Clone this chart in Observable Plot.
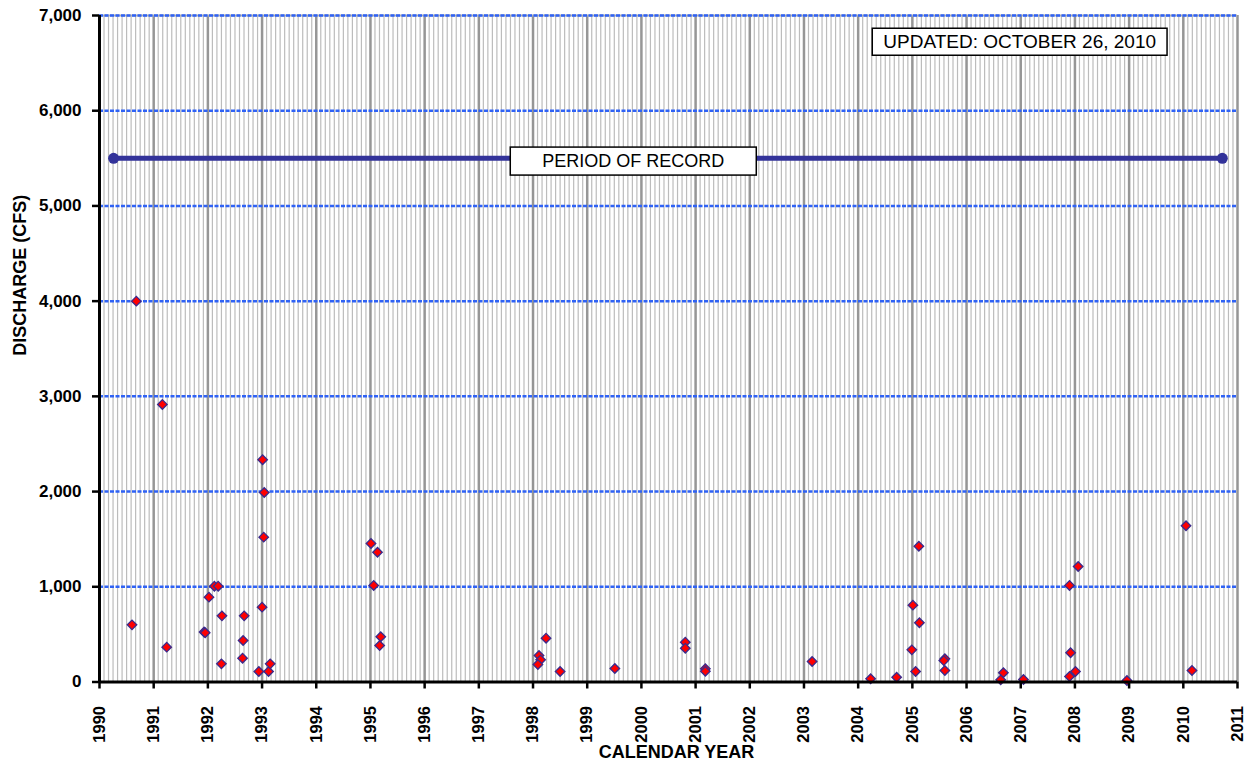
<!DOCTYPE html>
<html>
<head>
<meta charset="utf-8">
<script src="https://cdn.jsdelivr.net/npm/d3@7"></script>
<script src="https://cdn.jsdelivr.net/npm/@observablehq/plot@0.6"></script>
<style>
  html, body { margin: 0; padding: 0; background: #fff; }
  #chart { width: 1254px; height: 769px; }
</style>
</head>
<body>
<div id="chart"></div>
<script>
// ---- Data ----
const sampleYears = [
  1990.60, 1990.68, 1991.16, 1991.24, 1991.93, 1991.95, 1992.02, 1992.12, 1992.19, 1992.26,
  1992.25, 1992.67, 1992.65, 1992.64, 1992.94, 1993.00, 1993.01, 1993.04, 1993.03, 1993.12,
  1993.15, 1995.01, 1995.13, 1995.06, 1995.19, 1995.17, 1998.11, 1998.14, 1998.09, 1998.24,
  1998.50, 1999.51, 2000.81, 2000.81, 2001.18, 2001.18, 2003.15, 2004.23, 2004.71, 2005.01,
  2005.13, 2004.99, 2005.06, 2005.12, 2005.60, 2005.58, 2005.60, 2006.68, 2006.63, 2007.05,
  2007.90, 2008.06, 2007.92, 2008.01, 2007.90, 2008.96, 2010.05, 2010.16
];
const sampleDischarge = [
  600, 4000, 2915, 366, 525, 517, 891, 1006, 1006, 695,
  191, 695, 436, 250, 110, 786, 2334, 1990, 1521, 110,
  191, 1455, 1363, 1014, 475, 383, 278, 233, 184, 460,
  110, 142, 418, 355, 139, 113, 215, 34, 50, 807,
  622, 338, 110, 1426, 244, 225, 121, 97, 23, 26,
  1014, 1213, 307, 110, 58, 16, 1641, 121
];
const yearTicks = [1990, 1991, 1992, 1993, 1994, 1995, 1996, 1997, 1998, 1999, 2000,
  2001, 2002, 2003, 2004, 2005, 2006, 2007, 2008, 2009, 2010, 2011];
const dischargeTicks = [0, 1000, 2000, 3000, 4000, 5000, 6000, 7000];
const recordYears = [1990.26, 2010.72];
const recordLevel = 5500;
const recordLabel = "PERIOD OF RECORD";
const updatedLabel = "UPDATED: OCTOBER 26, 2010";
const yTitle = "DISCHARGE (CFS)";
const xTitle = "CALENDAR YEAR";

// ---- Tables built from the arrays ----
const samples = sampleYears.map((x, i) => ({x, y: sampleDischarge[i]}));
const record = recordYears.map(x => ({x, y: recordLevel}));
const monthTicks = d3.range(0, (2011 - 1990) * 12 + 1)
  .filter(i => i % 12 !== 0)
  .map(i => 1990 + i / 12);

const font = "'Liberation Sans', Arial, Helvetica, sans-serif";

const chart = Plot.plot({
  width: 1254,
  height: 769,
  marginLeft: 99,
  marginRight: 17,
  marginTop: 15,
  marginBottom: 87.5,
  style: {fontFamily: font, background: "#fff", color: "#000", overflow: "visible"},
  x: {domain: [1990, 2011]},
  y: {domain: [0, 7000]},
  marks: [
    Plot.ruleX(monthTicks, {stroke: "#bcbcbc", strokeWidth: 1.2}),
    Plot.ruleX(yearTicks, {stroke: "#969696", strokeWidth: 2.5}),
    Plot.ruleY([7000], {stroke: "#b0b0b0", strokeWidth: 2}),
    Plot.ruleY(dischargeTicks.filter(d => d > 0), {stroke: "#2f62f5", strokeWidth: 2.5, strokeDasharray: "4,1.5"}),
    Plot.line(record, {x: "x", y: "y", stroke: "#33339a", strokeWidth: 5}),
    Plot.dot(record, {x: "x", y: "y", r: 5.5, fill: "#33339a"}),
    Plot.text([recordLabel], {x: 1999.85, y: recordLevel, dy: 3, fontSize: 18, fill: "#000", fontFamily: font}),
    Plot.text([updatedLabel], {x: 2006.98, y: 6720, fontSize: 19, fill: "#000", fontFamily: font}),
    Plot.dot(samples, {x: "x", y: "y", symbol: "square", rotate: 45, r: 3.8, fill: "#ff0000", stroke: "#3b2a8c", strokeWidth: 1.3}),
    Plot.ruleX([1990], {stroke: "#000", strokeWidth: 3}),
    Plot.ruleY([0], {stroke: "#000", strokeWidth: 3}),
    Plot.axisX({ticks: yearTicks, tickFormat: d => String(d), tickRotate: -90, tickSize: 7, tickPadding: 17,
      fontSize: 16.5, fontWeight: "bold", label: null, stroke: "#000", strokeWidth: 2.5}),
    Plot.axisY({ticks: dischargeTicks, tickFormat: d3.format(","), tickSize: 7, tickPadding: 11,
      fontSize: 17, fontWeight: "bold", label: null, stroke: "#000", strokeWidth: 2.5}),
    Plot.text([yTitle], {frameAnchor: "left", dx: -79, dy: 7, rotate: -90, fontSize: 18, fontWeight: "bold", fill: "#000"}),
    Plot.text([xTitle], {frameAnchor: "bottom", dx: 8, dy: 76, fontSize: 18, fontWeight: "bold", fill: "#000"})
  ]
});

document.getElementById("chart").append(chart);

// Draw white framed boxes behind the two annotation labels
const svg = chart.tagName.toLowerCase() === "svg" ? chart : chart.querySelector("svg");
const pads = {};
pads[recordLabel] = [32, 4];
pads[updatedLabel] = [11, 3];
svg.querySelectorAll("text").forEach(t => {
  const p = pads[t.textContent];
  if (!p) return;
  const b = t.getBBox();
  const r = document.createElementNS("http://www.w3.org/2000/svg", "rect");
  r.setAttribute("x", b.x - p[0]);
  r.setAttribute("y", b.y - p[1]);
  r.setAttribute("width", b.width + 2 * p[0]);
  r.setAttribute("height", b.height + 2 * p[1]);
  r.setAttribute("fill", "#fff");
  r.setAttribute("stroke", "#000");
  r.setAttribute("stroke-width", "1.5");
  const tr = t.getAttribute("transform");
  if (tr) r.setAttribute("transform", tr);
  t.parentNode.insertBefore(r, t);
});
</script>
</body>
</html>
